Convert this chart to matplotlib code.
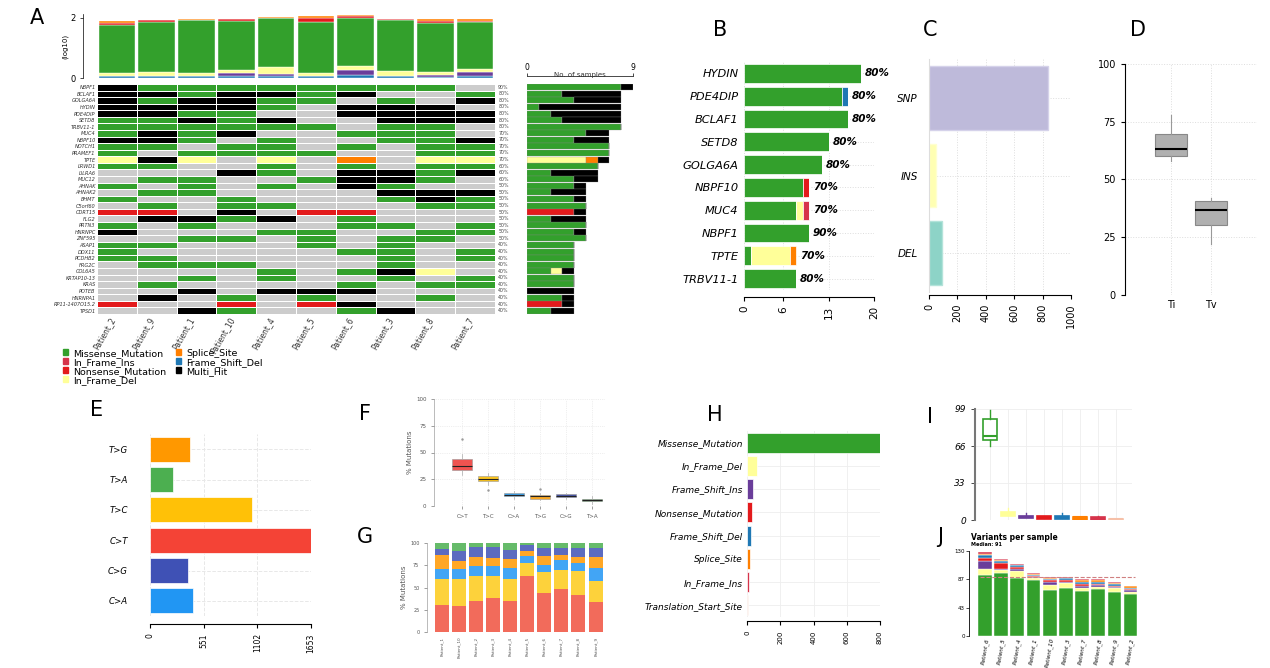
import numpy as np
import matplotlib
matplotlib.use("Agg")
import matplotlib.pyplot as plt
from matplotlib.colors import ListedColormap
from matplotlib.patches import Patch

W, H = 1270, 668

# ---------------- data ----------------
patients_a = ["Patient_2", "Patient_9", "Patient_1", "Patient_10", "Patient_4",
              "Patient_5", "Patient_6", "Patient_3", "Patient_8", "Patient_7"]
genes_a = ["NBPF1", "BCLAF1", "GOLGA6A", "HYDIN", "PDE4DIP", "SETD8", "TRBV11-1",
           "MUC4", "NBPF10", "NOTCH1", "PRAMEF1", "TPTE", "LRWD1", "LILRA6", "MUC12",
           "AHNAK", "AHNAK2", "BHMT", "C5orf60", "CDRT15", "FLG2", "PRTN3", "HNRNPC",
           "ZNF595", "ASAP1", "DDX11", "PCDHB2", "FRG2C", "COL6A5", "KRTAP10-13",
           "KRAS", "POTEB", "HNRNPA1", "RP11-1407O15.2", "TPSD1"]
# N none, G missense, K multi hit, Y in-frame del, R nonsense, O splice
onco_rows = ["KGGGGGGGGN", "KKGKKGKNNG", "KGKKGGNGNK", "KKKKGNKKKN", "KKGGNNKKKK",
             "GGKGKNNKKK", "GGGGGGNGGN", "GKGKNNGGGN", "KKGNGNNGGK", "GGNGGNGNGG",
             "GNGGGGNNGG", "YKYNYNONYY", "GGNNGNGNGG", "NNNKGNKKGK", "NGGNNGKKGN",
             "GNGNGNKGNN", "NGGNNNNKKK", "GNNGNNNGKG", "NGNGGNNNGG", "RRNKNRRNNN",
             "NKKGKNGNNN", "GNGNNNGGNG", "KNNNGGNNGG", "NNGGNGNGGN", "GGNNNGNGNN",
             "GNNNNNGGNG", "GGNNNNNGNG", "NGGGNNNGNN", "NNNNGNGKYN", "NNGNGNNGNG",
             "NGNNNNGNGG", "NNKNKKKNNN", "NKNGNGNNGN", "RNNRNRKNNN", "NNKGNNGKNN"]

# TMB (log10) stacked per patient
tmb_fsd = [0.05, 0.05, 0.05, 0.05, 0.05, 0.05, 0.10, 0.05, 0.04, 0.08]
tmb_fsi = [0.00, 0.00, 0.00, 0.10, 0.07, 0.00, 0.15, 0.00, 0.06, 0.12]
tmb_ifd = [0.12, 0.15, 0.10, 0.12, 0.25, 0.10, 0.15, 0.17, 0.10, 0.10]
tmb_mis = [1.60, 1.67, 1.78, 1.63, 1.63, 1.72, 1.60, 1.69, 1.63, 1.55]
tmb_non = [0.05, 0.05, 0.00, 0.05, 0.00, 0.11, 0.04, 0.04, 0.05, 0.05]
tmb_spl = [0.06, 0.00, 0.04, 0.00, 0.02, 0.07, 0.05, 0.00, 0.07, 0.05]

# B
genes_b = ["HYDIN", "PDE4DIP", "BCLAF1", "SETD8", "GOLGA6A", "NBPF10", "MUC4",
           "NBPF1", "TPTE", "TRBV11-1"]
b_mis = [18, 15, 16, 13, 12, 9, 8, 10, 1, 8]
b_fsd = [0, 1, 0, 0, 0, 0, 0, 0, 0, 0]
b_non = [0, 0, 0, 0, 0, 1, 0, 0, 0, 0]
b_ifd = [0, 0, 0, 0, 0, 0, 1, 0, 6, 0]
b_ifi = [0, 0, 0, 0, 0, 0, 1, 0, 0, 0]
b_spl = [0, 0, 0, 0, 0, 0, 0, 0, 1, 0]
b_pct = [80, 80, 80, 80, 80, 70, 70, 90, 70, 80]

# C
var_types = ["SNP", "INS", "DEL"]
var_counts = [840, 47, 94]

# D  (Ti / Tv)
titv_labels = ["Ti", "Tv"]
titv_q1 = [60, 30.5]
titv_med = [63, 37]
titv_q3 = [69.5, 40.5]
titv_lo = [58, 22]
titv_hi = [78, 42]

# E
snv_classes = ["C>A", "C>G", "C>T", "T>C", "T>A", "T>G"]
snv_counts = [446, 388, 1653, 1046, 240, 408]

# F
f_classes = ["C>T", "T>C", "C>A", "T>G", "C>G", "T>A"]
f_q1 = [34, 23, 9, 7, 8, 5]
f_med = [37, 25.5, 10.5, 9.5, 9.5, 5.5]
f_q3 = [44, 28, 12, 10, 11, 7]
f_lo = [29, 20, 7, 6, 7, 2]
f_hi = [49, 31, 14, 12, 12, 9]
f_out = [[63], [15], [], [16], [], []]

# G
patients_g = ["Patient_1", "Patient_10", "Patient_2", "Patient_3", "Patient_4",
              "Patient_5", "Patient_6", "Patient_7", "Patient_8", "Patient_9"]
g_ct = [30, 29, 35, 38, 34.5, 62.5, 44, 48, 42, 34]
g_tc = [29, 30.5, 27.5, 25, 24.5, 15, 23, 21.5, 27, 23.5]
g_ca = [11.5, 11, 11.5, 11, 12.5, 7.5, 8.5, 11, 8.5, 14.5]
g_tg = [15.5, 9.5, 10, 9.5, 10, 6, 10, 6.5, 6.5, 12.5]
g_cg = [7.5, 11.5, 11, 11.5, 10.5, 6.5, 9, 7, 10, 10]
g_ta = [6.5, 8.5, 5, 5, 8.5, 2.5, 5.5, 6, 6, 5.5]

# H
var_class = ["Missense_Mutation", "In_Frame_Del", "Frame_Shift_Ins", "Nonsense_Mutation",
             "Frame_Shift_Del", "Splice_Site", "In_Frame_Ins", "Translation_Start_Site"]
var_class_counts = [800, 62, 38, 30, 22, 16, 12, 4]

# I
i_q1 = [71, 3.3, 1.5, 1.2, 0.6, 0.2, 0.3, 0]
i_med = [75, 5, 2.5, 2.5, 1.5, 2.5, 1, 0.6]
i_q3 = [90, 6.8, 3.9, 3.3, 3.3, 3, 2.4, 1.2]
i_lo = [66, 3.3, 1.5, 1.2, 0.6, 0.2, 0.3, 0]
i_hi = [98, 10.4, 6, 4, 6, 3, 4, 1.2]

# J
patients_j = ["Patient_6", "Patient_5", "Patient_4", "Patient_1", "Patient_10",
              "Patient_3", "Patient_7", "Patient_8", "Patient_9", "Patient_2"]
j_mis = [93, 97, 88, 85, 71, 74, 69, 72, 68, 65]
j_ifd = [10, 4, 12, 3, 7, 7, 5, 3, 5, 3]
j_fsi = [11, 2, 3, 2, 5, 2, 3, 3, 2, 2]
j_non = [5, 8, 2, 2, 3, 3, 3, 2, 2, 2]
j_fsd = [5, 3, 3, 1, 1, 2, 3, 2, 2, 2]
j_spl = [2, 3, 1, 2, 1, 1, 3, 4, 2, 2]
j_ifi = [3, 1, 1, 2, 2, 1, 1, 1, 1, 1]
j_median = 91

# ---------------- colours ----------------
C_MIS, C_FSD, C_FSI = "#33a02c", "#1f78b4", "#6a3d9a"
C_NON, C_IFD, C_IFI = "#e31a1c", "#ffff99", "#d6334a"
C_SPL, C_TSS = "#ff7f00", "#f6c0a8"
onco_colors = {"N": "#cccccc", "G": C_MIS, "K": "black", "Y": C_IFD, "R": C_NON, "O": C_SPL}
onco_keys = list(onco_colors)
snv_col = {"C>A": "#2196f3", "C>G": "#3f51b5", "C>T": "#f44336",
           "T>C": "#ffc107", "T>A": "#4caf50", "T>G": "#ff9800"}
snv_col_light = {"C>A": "#42a5f5", "C>G": "#5c6bc0", "C>T": "#f26b5b",
                 "T>C": "#fdd23b", "T>A": "#66bb6a", "T>G": "#ffa726"}
f_col = {"C>T": "#ef5350", "T>C": "#f9c31f", "C>A": "#3a9ee6",
         "T>G": "#f9a825", "C>G": "#4a56a8", "T>A": "#2e7d32"}


def px_axes(fig, left, top, right, bottom):
    return fig.add_axes([left / W, 1 - bottom / H, (right - left) / W, (bottom - top) / H])


def letter(fig, x, y, s):
    fig.text(x / W, 1 - y / H, s, fontsize=15, ha="center", va="center")


fig = plt.figure(figsize=(W / 100, H / 100), dpi=100)

# ================= A =================
letter(fig, 37, 18, "A")
ax_t = px_axes(fig, 97, 14, 495, 78)
xa = np.arange(len(patients_a)) + 0.5
bottom = np.zeros(len(patients_a))
for vals, col in [(tmb_fsd, C_FSD), (tmb_fsi, C_FSI), (tmb_ifd, C_IFD),
                  (tmb_mis, C_MIS), (tmb_non, C_NON), (tmb_spl, C_SPL)]:
    ax_t.bar(xa, vals, bottom=bottom, width=0.92, color=col, edgecolor="white", linewidth=0.3)
    bottom += np.array(vals)
ax_t.set_xlim(0, 10)
ax_t.set_ylim(0, 2.12)
ax_t.set_yticks([0, 2])
ax_t.tick_params(axis="y", labelsize=6, length=2, width=0.5)
ax_t.set_xticks([])
for s in ["top", "right", "bottom"]:
    ax_t.spines[s].set_visible(False)
ax_t.spines["left"].set_position(("outward", 10))
ax_t.spines["left"].set_linewidth(0.5)
ax_t.set_ylabel("(log10)", fontsize=5, labelpad=1)

ax_h = px_axes(fig, 97, 84, 495, 314)
codes = np.array([[onco_keys.index(c) for c in row] for row in onco_rows])
ax_h.pcolormesh(np.arange(len(patients_a) + 1), np.arange(len(genes_a) + 1), codes,
                cmap=ListedColormap([onco_colors[k] for k in onco_keys]),
                vmin=-0.5, vmax=len(onco_keys) - 0.5, edgecolors="white", linewidth=0.4)
ax_h.set_xlim(0, 10)
ax_h.set_ylim(len(genes_a), 0)
ax_h.set_yticks(np.arange(len(genes_a)) + 0.5)
ax_h.set_yticklabels(genes_a, fontsize=3.6, style="italic", color="#333333")
ax_h.set_xticks(xa)
ax_h.set_xticklabels(patients_a, rotation=60, ha="right", fontsize=5.5, color="#333333")
ax_h.tick_params(length=0, pad=1)
for s in ax_h.spines.values():
    s.set_visible(False)

counts = {k: (codes == onco_keys.index(k)).sum(axis=1) for k in onco_keys}
mutated = len(patients_a) - counts["N"]
for i, m in enumerate(mutated):
    ax_h.text(10.08, i + 0.5, f"{int(round(100 * m / len(patients_a)))}%",
              fontsize=3.4, va="center", ha="left", color="#444444")

ax_r = px_axes(fig, 527, 84, 633, 314)
yr = np.arange(len(genes_a)) + 0.5
left = np.zeros(len(genes_a))
for k in ["G", "R", "Y", "O", "K"]:
    ax_r.barh(yr, counts[k], left=left, height=0.92, color=onco_colors[k],
              edgecolor="#888888", linewidth=0.2)
    left += counts[k]
ax_r.set_xlim(0, 9)
ax_r.set_ylim(len(genes_a), 0)
ax_r.set_yticks([])
ax_r.xaxis.tick_top()
ax_r.set_xticks([0, 9])
ax_r.tick_params(axis="x", labelsize=5.5, length=2, width=0.5, pad=1)
for s in ["right", "bottom", "left"]:
    ax_r.spines[s].set_visible(False)
ax_r.spines["top"].set_position(("outward", 6))
ax_r.spines["top"].set_linewidth(0.5)
ax_r.text(0.5, 1.04, "No. of samples", transform=ax_r.transAxes, ha="center",
          va="center", fontsize=5, color="#333333")

leg_items = [("Missense_Mutation", C_MIS), ("In_Frame_Ins", C_IFI),
             ("Nonsense_Mutation", C_NON), ("In_Frame_Del", C_IFD),
             ("Splice_Site", C_SPL), ("Frame_Shift_Del", C_FSD), ("Multi_Hit", "black")]
fig.legend([Patch(color=c) for _, c in leg_items], [n for n, _ in leg_items],
           ncol=2, loc="upper left", bbox_to_anchor=(58 / W, 1 - 344 / H), frameon=False,
           fontsize=6.8, handlelength=0.6, handleheight=0.6, handletextpad=0.5,
           columnspacing=1.0, labelspacing=0.0, borderpad=0)

# ================= B =================
letter(fig, 720, 30, "B")
ax_b = px_axes(fig, 744, 62, 874, 290)
yb = np.arange(len(genes_b))
left = np.zeros(len(genes_b))
for vals, col in [(b_mis, C_MIS), (b_fsd, C_FSD), (b_non, C_NON),
                  (b_ifd, C_IFD), (b_ifi, C_IFI), (b_spl, C_SPL)]:
    ax_b.barh(yb, vals, left=left, height=0.83, color=col, edgecolor="white", linewidth=0.5)
    left += np.array(vals)
for y, tot, p in zip(yb, left, b_pct):
    ax_b.text(tot + 0.6, y, f"{p}%", fontsize=7.5, fontweight="bold", style="italic",
              va="center", ha="left")
ax_b.set_ylim(len(genes_b) - 0.5, -0.5)
ax_b.set_xlim(0, 20)
ax_b.set_yticks(yb)
ax_b.set_yticklabels(genes_b, fontsize=8.2, style="italic")
ax_b.set_xticks([0, 6, 13, 20])
ax_b.tick_params(axis="x", labelsize=7.5, rotation=90, length=3)
ax_b.tick_params(axis="y", length=0, pad=4)
ax_b.grid(True, linestyle=":", color="#dddddd", linewidth=0.7)
ax_b.set_axisbelow(True)
for s in ["top", "right", "left"]:
    ax_b.spines[s].set_visible(False)
ax_b.spines["bottom"].set_position(("outward", 5))

# ================= C =================
letter(fig, 930, 30, "C")
ax_c = px_axes(fig, 929, 59, 1071, 292)
yc = np.arange(len(var_types))
ax_c.barh(yc, var_counts, height=0.82,
          color=["#bebada", "#ffffb3", "#8dd3c7"], edgecolor=["#d5d2ea", "#ffffd0", "#b3e3da"],
          linewidth=1)
ax_c.set_ylim(len(var_types) - 0.5, -0.5)
ax_c.set_xlim(0, 1000)
ax_c.set_yticks(yc)
ax_c.set_yticklabels(var_types, fontsize=7.5, style="italic")
ax_c.set_xticks(np.arange(0, 1001, 200))
ax_c.tick_params(axis="x", labelsize=7, rotation=90, length=3)
ax_c.tick_params(axis="y", length=0, pad=8)
ax_c.grid(True, linestyle=":", color="#dddddd", linewidth=0.7)
ax_c.set_axisbelow(True)
for s in ["top", "right"]:
    ax_c.spines[s].set_visible(False)
ax_c.spines["left"].set_color("#dddddd")
ax_c.spines["bottom"].set_position(("outward", 2))

# ================= D =================
letter(fig, 1138, 30, "D")
ax_d = px_axes(fig, 1125, 64, 1257, 295)
d_stats = [dict(q1=a, med=b, q3=c, whislo=d, whishi=e, fliers=[])
           for a, b, c, d, e in zip(titv_q1, titv_med, titv_q3, titv_lo, titv_hi)]
ax_d.bxp(d_stats, positions=[1, 2], widths=0.8, patch_artist=True,
         boxprops=dict(facecolor="#b0b0b0", edgecolor="#888888", linewidth=0.8),
         medianprops=dict(color="black", linewidth=1.5),
         whiskerprops=dict(color="#999999", linewidth=0.8),
         capprops=dict(linewidth=0))
ax_d.set_xlim(-0.145, 3.145)
ax_d.set_ylim(0, 100)
ax_d.set_yticks([0, 25, 50, 75, 100])
ax_d.set_xticks([1, 2])
ax_d.set_xticklabels(titv_labels)
ax_d.tick_params(axis="both", labelsize=7, length=3)
ax_d.tick_params(axis="x", length=0)
ax_d.grid(True, linestyle=":", color="#dddddd", linewidth=0.7)
ax_d.set_axisbelow(True)
for s in ["top", "right", "bottom"]:
    ax_d.spines[s].set_visible(False)

# ================= E =================
letter(fig, 97, 410, "E")
ax_e = px_axes(fig, 150, 434, 311, 616)
ye = np.arange(len(snv_classes))
ax_e.barh(ye, snv_counts, height=0.83, color=[snv_col[c] for c in snv_classes],
          edgecolor="white", linewidth=0.5)
ax_e.set_ylim(-0.5, len(snv_classes) - 0.5)
ax_e.set_xlim(0, 1653)
ax_e.set_yticks(ye)
ax_e.set_yticklabels(snv_classes, fontsize=6.2, style="italic")
ax_e.set_xticks([0, 551, 1102, 1653])
ax_e.tick_params(axis="x", labelsize=5.5, rotation=90, length=3)
ax_e.tick_params(axis="y", length=0, pad=16)
ax_e.grid(True, linestyle="--", color="#e8e8e8", linewidth=0.7)
ax_e.set_axisbelow(True)
for s in ["top", "right", "left"]:
    ax_e.spines[s].set_visible(False)
ax_e.spines["bottom"].set_position(("outward", 6))

# ================= F =================
letter(fig, 365, 414, "F")
ax_f = px_axes(fig, 434, 399, 605, 506)
f_stats = [dict(q1=a, med=b, q3=c, whislo=d, whishi=e, fliers=o)
           for a, b, c, d, e, o in zip(f_q1, f_med, f_q3, f_lo, f_hi, f_out)]
bp = ax_f.bxp(f_stats, positions=np.arange(1, 7), widths=0.75, patch_artist=True,
              medianprops=dict(color="#222222", linewidth=0.8),
              whiskerprops=dict(color="#aaaaaa", linewidth=0.5),
              capprops=dict(linewidth=0),
              flierprops=dict(marker=".", markersize=1.5, markerfacecolor="#999999",
                              markeredgecolor="#999999"))
for box, c in zip(bp["boxes"], f_classes):
    box.set_facecolor(f_col[c])
    box.set_edgecolor("#999999")
    box.set_linewidth(0.4)
ax_f.set_xlim(-0.08, 6.5)
ax_f.set_ylim(0, 100)
ax_f.set_yticks([0, 25, 50, 75, 100])
ax_f.set_xticks(np.arange(1, 7))
ax_f.set_xticklabels(f_classes)
ax_f.tick_params(labelsize=4, colors="#555555", length=2, width=0.4)
ax_f.set_ylabel("% Mutations", fontsize=5, color="#555555", labelpad=2)
ax_f.grid(True, linestyle=":", color="#e0e0e0", linewidth=0.5)
ax_f.set_axisbelow(True)
for s in ["top", "right", "bottom"]:
    ax_f.spines[s].set_visible(False)
ax_f.spines["left"].set_linewidth(0.4)
ax_f.spines["left"].set_color("#888888")

# ================= G =================
letter(fig, 365, 537, "G")
ax_g = px_axes(fig, 427, 543, 608, 632)
xg = np.arange(len(patients_g))
bottom = np.zeros(len(patients_g))
for vals, c in [(g_ct, "C>T"), (g_tc, "T>C"), (g_ca, "C>A"),
                (g_tg, "T>G"), (g_cg, "C>G"), (g_ta, "T>A")]:
    ax_g.bar(xg, vals, bottom=bottom, width=0.82, color=snv_col_light[c], linewidth=0)
    bottom += np.array(vals)
ax_g.set_xlim(-0.88, 9.73)
ax_g.set_ylim(0, 100)
ax_g.set_yticks([0, 25, 50, 75, 100])
ax_g.set_xticks(xg)
ax_g.set_xticklabels(patients_g, rotation=90)
ax_g.tick_params(axis="y", labelsize=3.5, colors="#555555", length=2, width=0.4)
ax_g.tick_params(axis="x", labelsize=3, colors="#555555", length=0)
ax_g.set_ylabel("% Mutations", fontsize=5, color="#555555", labelpad=2)
for s in ["top", "right", "bottom"]:
    ax_g.spines[s].set_visible(False)
ax_g.spines["left"].set_linewidth(0.4)
ax_g.spines["left"].set_color("#888888")

# ================= H =================
letter(fig, 715, 415, "H")
ax_hh = px_axes(fig, 747, 431, 880, 617)
yh = np.arange(len(var_class))
vc_col = [C_MIS, C_IFD, C_FSI, C_NON, C_FSD, C_SPL, C_IFI, C_TSS]
ax_hh.barh(yh, var_class_counts, height=0.85, color=vc_col, edgecolor="white", linewidth=0.5)
ax_hh.set_ylim(len(var_class) - 0.5, -0.5)
ax_hh.set_xlim(0, 800)
ax_hh.set_yticks(yh)
ax_hh.set_yticklabels(var_class, fontsize=6.5, style="italic")
ax_hh.set_xticks(np.arange(0, 801, 200))
ax_hh.tick_params(axis="x", labelsize=5, rotation=90, length=3)
ax_hh.tick_params(axis="y", length=0, pad=3)
ax_hh.grid(True, linestyle="-", color="#eeeeee", linewidth=0.6)
ax_hh.set_axisbelow(True)
for s in ["top", "right", "left"]:
    ax_hh.spines[s].set_visible(False)
ax_hh.spines["bottom"].set_position(("outward", 3))

# ================= I =================
letter(fig, 930, 417, "I")
ax_i = px_axes(fig, 975, 409, 1132, 520)
i_stats = [dict(q1=a, med=b, q3=c, whislo=d, whishi=e, fliers=[])
           for a, b, c, d, e in zip(i_q1, i_med, i_q3, i_lo, i_hi)]
bpi = ax_i.bxp(i_stats, positions=np.arange(1, 9), widths=0.75, patch_artist=True,
               capprops=dict(linewidth=0))
for k, c in enumerate(vc_col):
    bpi["boxes"][k].set_facecolor("white" if k == 0 else c)
    bpi["boxes"][k].set_edgecolor(c)
    bpi["boxes"][k].set_linewidth(1.2)
    bpi["medians"][k].set_color(c)
    bpi["medians"][k].set_linewidth(1.5)
    for w in bpi["whiskers"][2 * k:2 * k + 2]:
        w.set_color(c)
        w.set_linewidth(1.0)
ax_i.set_xlim(0.17, 8.89)
ax_i.set_ylim(0, 99)
ax_i.set_yticks([0, 33, 66, 99])
ax_i.set_yticklabels(["0", "33", "66", "99"], style="italic")
ax_i.set_xticks(np.arange(1, 9))
ax_i.set_xticklabels([])
ax_i.tick_params(axis="y", labelsize=6.5, length=3, width=0.5)
ax_i.tick_params(axis="x", length=0)
ax_i.grid(True, linestyle="-", color="#eeeeee", linewidth=0.6)
ax_i.set_axisbelow(True)
for s in ["top", "right", "bottom"]:
    ax_i.spines[s].set_visible(False)
ax_i.spines["left"].set_linewidth(1.5)
ax_i.spines["left"].set_color("#777777")

# ================= J =================
letter(fig, 940, 537, "J")
ax_j = px_axes(fig, 973, 551, 1140, 636)
xj = np.arange(len(patients_j))
bottom = np.zeros(len(patients_j))
for vals, col in [(j_mis, C_MIS), (j_ifd, C_IFD), (j_fsi, C_FSI), (j_non, C_NON),
                  (j_fsd, C_FSD), (j_spl, C_SPL), (j_ifi, C_IFI)]:
    ax_j.bar(xj, vals, bottom=bottom, width=0.85, color=col, edgecolor="white", linewidth=0.3)
    bottom += np.array(vals)
ax_j.axhline(j_median, color="#d08080", linestyle="--", linewidth=0.8, xmin=0.04, xmax=0.97)
ax_j.set_xlim(-0.74, 9.58)
ax_j.set_ylim(0, 130)
ax_j.set_yticks([0, 43, 87, 130])
ax_j.set_yticklabels(["0", "43", "87", "130"], style="italic")
ax_j.set_xticks(xj)
ax_j.set_xticklabels(patients_j, rotation=80, ha="center", style="italic")
ax_j.tick_params(axis="y", labelsize=4, length=2, width=0.5, pad=1)
ax_j.tick_params(axis="x", labelsize=4.1, length=0, pad=1)
for s in ["top", "right", "bottom"]:
    ax_j.spines[s].set_visible(False)
ax_j.spines["left"].set_linewidth(0.6)
ax_j.spines["left"].set_position(("outward", 3))
fig.text(971 / W, 1 - 538 / H, "Variants per sample", fontsize=5.5, fontweight="bold",
         ha="left", va="center")
fig.text(971 / W, 1 - 545 / H, f"Median: {j_median}", fontsize=3.5, fontweight="bold",
         ha="left", va="center")

fig.savefig("out.png", dpi=100)
